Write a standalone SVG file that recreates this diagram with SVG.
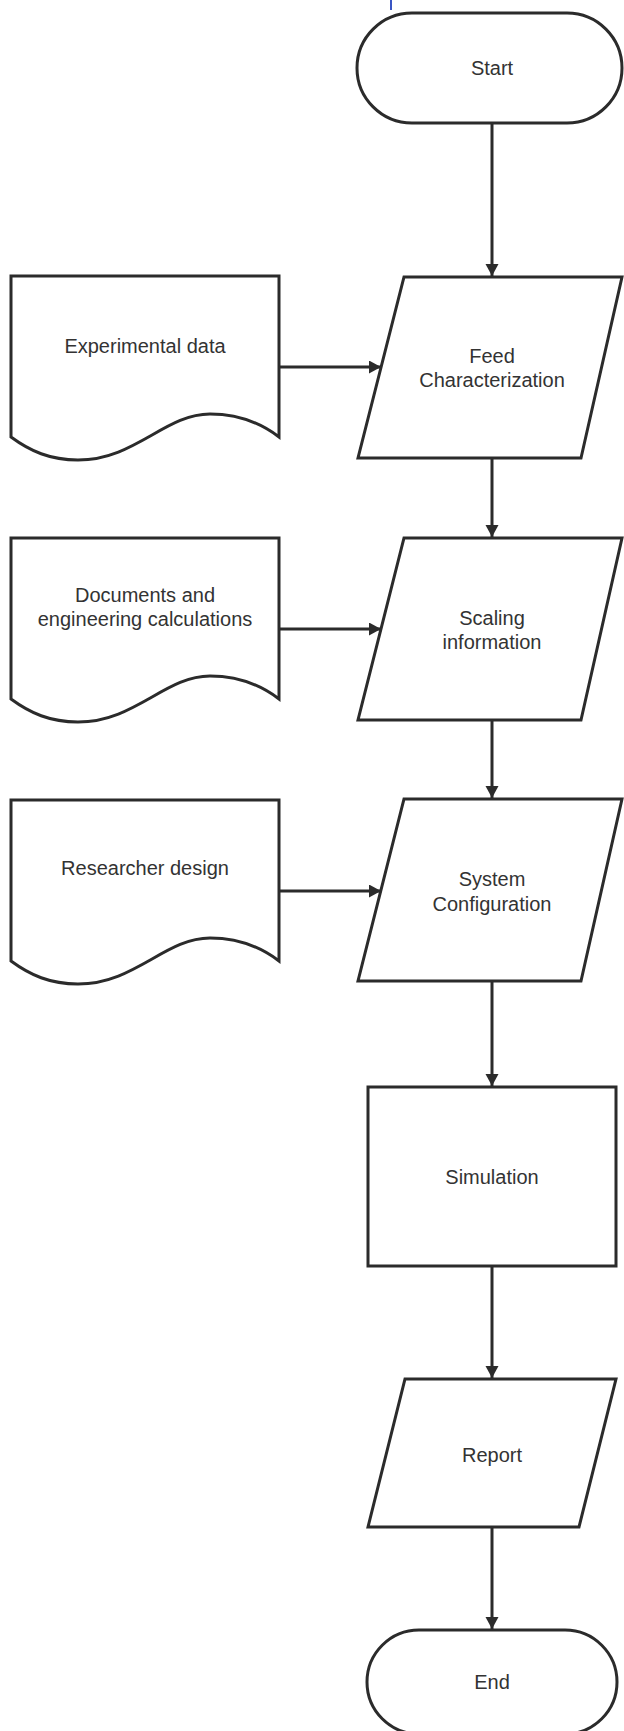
<svg xmlns="http://www.w3.org/2000/svg" width="624" height="1731" viewBox="0 0 624 1731">
<style>
.shape{fill:#fff;stroke:#2b2b2b;stroke-width:3;stroke-linejoin:miter}
.conn{fill:none;stroke:#2b2b2b;stroke-width:3}
.lbl{font-family:"Liberation Sans",Arial,sans-serif;font-size:20px;fill:#333;text-anchor:middle}
</style>
<defs>
<marker id="arr" markerUnits="userSpaceOnUse" markerWidth="14" markerHeight="14" refX="12" refY="6.5" orient="auto">
<path d="M0,0 L12,6.5 L0,13 z" fill="#2b2b2b"/>
</marker>
<path id="docShape" d="M11,0 H279 V161 C262,148 240,138 210,138 C165,138 135,184 78,184 C50,184 30,175 11,161 Z"/>
</defs>
<rect width="624" height="1731" fill="#fff"/>
<line x1="391" y1="0" x2="391" y2="10" stroke="#3a56c4" stroke-width="2"/>
<g id="connectors">
<line class="conn" x1="492" y1="123" x2="492" y2="276" marker-end="url(#arr)"/>
<line class="conn" x1="492" y1="458" x2="492" y2="537" marker-end="url(#arr)"/>
<line class="conn" x1="492" y1="720" x2="492" y2="798" marker-end="url(#arr)"/>
<line class="conn" x1="492" y1="981" x2="492" y2="1086" marker-end="url(#arr)"/>
<line class="conn" x1="492" y1="1266" x2="492" y2="1378" marker-end="url(#arr)"/>
<line class="conn" x1="492" y1="1527" x2="492" y2="1629" marker-end="url(#arr)"/>
<line class="conn" x1="279" y1="367" x2="381" y2="367" marker-end="url(#arr)"/>
<line class="conn" x1="279" y1="629" x2="381" y2="629" marker-end="url(#arr)"/>
<line class="conn" x1="279" y1="891" x2="381" y2="891" marker-end="url(#arr)"/>
</g>
<g id="start">
<rect class="shape" x="357" y="13" width="265" height="110" rx="55" ry="55"/>
<text class="lbl" x="492" y="75">Start</text>
</g>
<g id="doc-experimental">
<use href="#docShape" class="shape" transform="translate(0,276)"/>
<text class="lbl" x="145" y="353">Experimental data</text>
</g>
<g id="feed">
<polygon class="shape" points="404,277 622,277 581,458 358,458"/>
<text class="lbl" x="492" y="363">Feed</text>
<text class="lbl" x="492" y="387">Characterization</text>
</g>
<g id="doc-documents">
<use href="#docShape" class="shape" transform="translate(0,538)"/>
<text class="lbl" x="145" y="602">Documents and</text>
<text class="lbl" x="145" y="626">engineering calculations</text>
</g>
<g id="scaling">
<polygon class="shape" points="404,538 622,538 581,720 358,720"/>
<text class="lbl" x="492" y="625">Scaling</text>
<text class="lbl" x="492" y="649">information</text>
</g>
<g id="doc-researcher">
<use href="#docShape" class="shape" transform="translate(0,800)"/>
<text class="lbl" x="145" y="875">Researcher design</text>
</g>
<g id="system">
<polygon class="shape" points="404,799 622,799 581,981 358,981"/>
<text class="lbl" x="492" y="886">System</text>
<text class="lbl" x="492" y="911">Configuration</text>
</g>
<g id="simulation">
<rect class="shape" x="368" y="1087" width="248" height="179"/>
<text class="lbl" x="492" y="1184">Simulation</text>
</g>
<g id="report">
<polygon class="shape" points="405,1379 616,1379 579,1527 368,1527"/>
<text class="lbl" x="492" y="1462">Report</text>
</g>
<g id="end">
<rect class="shape" x="367" y="1630" width="250" height="104" rx="52" ry="52"/>
<text class="lbl" x="492" y="1689">End</text>
</g>
</svg>
